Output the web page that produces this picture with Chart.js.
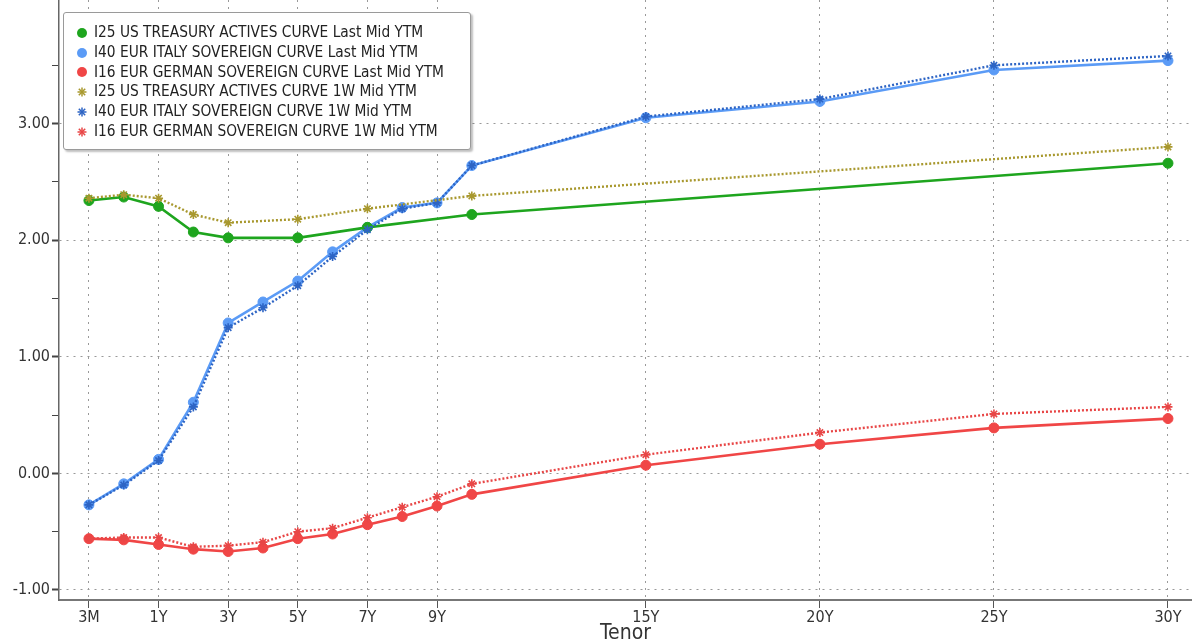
<!doctype html>
<html lang="en">
<head>
<meta charset="utf-8">
<script src="https://cdn.jsdelivr.net/npm/chart.js"></script>
<style>
  body { margin: 0; background: #fff; }
  #wrap { position: relative; width: 1192px; height: 643px; }
  #legend {
    position: absolute; left: 63px; top: 12px; width: 408px; height: 138px;
    background: #fff; border: 1px solid #9a9a9a; border-radius: 3px;
    box-shadow: 2px 2px 2px rgba(0,0,0,0.25);
    font-family: 'DejaVu Sans Condensed', 'DejaVu Sans', sans-serif; font-size: 15.3px; color: #222;
    box-sizing: border-box; padding-top: 10px;
  }
  .row { height: 19.8px; line-height: 19.8px; white-space: nowrap; display: flex; align-items: center; }
  .row svg { margin-left: 12px; margin-right: 6px; flex: none; }
</style>
</head>
<body>
<div id="wrap">
  <canvas id="myGraph" width="1192" height="643"></canvas>
  <div id="legend"></div>
</div>
<script>
// tenors and their position on the x axis (short end spaced by point, long end by year)
const tenors   = ['3M','6M','1Y','2Y','3Y','4Y','5Y','6Y','7Y','8Y','9Y','10Y','15Y','20Y','25Y','30Y'];
const tenorPos = [-1, 0, 1, 2, 3, 4, 5, 6, 7, 8, 9, 10, 15, 20, 25, 30];

const xTickPos  = [-1, 1, 3, 5, 7, 9, 15, 20, 25, 30];
const xTickText = ['3M','1Y','3Y','5Y','7Y','9Y','15Y','20Y','25Y','30Y'];
const yTicks = [-1, -0.5, 0, 0.5, 1, 1.5, 2, 2.5, 3, 3.5];

// yields, null where the curve has no point
const usLast = [2.34, 2.37, 2.29, 2.07, 2.02, null, 2.02, null, 2.11, null, null, 2.22, null, null, null, 2.66];
const itLast = [-0.27, -0.09, 0.12, 0.61, 1.29, 1.47, 1.65, 1.90, 2.11, 2.28, 2.32, 2.64, 3.05, 3.19, 3.46, 3.54];
const deLast = [-0.56, -0.57, -0.61, -0.65, -0.67, -0.64, -0.56, -0.52, -0.44, -0.37, -0.28, -0.18, 0.07, 0.25, 0.39, 0.47];
const us1W   = [2.36, 2.39, 2.36, 2.22, 2.15, null, 2.18, null, 2.27, null, null, 2.38, null, null, null, 2.80];
const it1W   = [-0.27, -0.10, 0.11, 0.57, 1.25, 1.42, 1.61, 1.86, 2.09, 2.27, 2.32, 2.64, 3.06, 3.21, 3.50, 3.58];
const de1W   = [-0.56, -0.55, -0.55, -0.63, -0.62, -0.59, -0.50, -0.47, -0.38, -0.29, -0.20, -0.09, 0.16, 0.35, 0.51, 0.57];

const names = [
  'I25 US TREASURY ACTIVES CURVE Last Mid YTM',
  'I40 EUR ITALY SOVEREIGN CURVE Last Mid YTM',
  'I16 EUR GERMAN SOVEREIGN CURVE Last Mid YTM',
  'I25 US TREASURY ACTIVES CURVE 1W Mid YTM',
  'I40 EUR ITALY SOVEREIGN CURVE 1W Mid YTM',
  'I16 EUR GERMAN SOVEREIGN CURVE 1W Mid YTM'
];
const colors = ['#1ea51e', '#5b9bf6', '#f04646', '#a8982e', '#2d64c4', '#e84646'];
const series = [usLast, itLast, deLast, us1W, it1W, de1W];

function pts(vals) {
  const out = [];
  for (let i = 0; i < vals.length; i++) {
    if (vals[i] !== null) out.push({ x: tenorPos[i], y: vals[i] });
  }
  return out;
}

const datasets = series.map(function (vals, i) {
  const last = i < 3;
  return {
    label: names[i],
    data: pts(vals),
    borderColor: colors[i],
    backgroundColor: colors[i],
    borderWidth: last ? 2.6 : 2.4,
    borderDash: last ? [] : [2, 2],
    pointStyle: last ? 'circle' : 'star',
    pointRadius: last ? 5 : 4.5,
    pointBorderWidth: last ? 1 : 1.6,
    tension: 0,
    order: last ? 1 : 0
  };
});

// html legend
const legend = document.getElementById('legend');
names.forEach(function (n, i) {
  const c = colors[i];
  const mark = i < 3
    ? '<circle cx="6" cy="6" r="5" fill="' + c + '"/>'
    : '<g stroke="' + c + '" stroke-width="1.5"><line x1="6" y1="1.5" x2="6" y2="10.5"/><line x1="1.5" y1="6" x2="10.5" y2="6"/><line x1="2.8" y1="2.8" x2="9.2" y2="9.2"/><line x1="9.2" y1="2.8" x2="2.8" y2="9.2"/></g>';
  legend.innerHTML += '<div class="row"><svg width="12" height="12">' + mark + '</svg>' + n + '</div>';
});

const tickFont = { family: "'DejaVu Sans Condensed', 'DejaVu Sans'", size: 16 };

new Chart(document.getElementById('myGraph'), {
  type: 'line',
  data: { datasets: datasets },
  options: {
    responsive: false,
    animation: false,
    layout: { padding: 0, autoPadding: false },
    plugins: { legend: { display: false }, tooltip: { enabled: false } },
    scales: {
      x: {
        type: 'linear',
        min: -1.86,
        max: 30.69,
        afterBuildTicks: function (s) { s.ticks = xTickPos.map(v => ({ value: v })); },
        afterFit: function (s) { s.height = 43; s.paddingLeft = 0; s.paddingRight = 0; },
        ticks: {
          autoSkip: false, maxRotation: 0, padding: 0, color: '#333', font: tickFont,
          callback: function (v, idx) { return xTickText[idx]; }
        },
        grid: { color: '#999', tickColor: '#555', tickLength: 8, lineWidth: 1 },
        border: { color: '#777', width: 2, dash: [2, 5] },
        title: { display: true, text: 'Tenor', color: '#333', padding: { top: 0, bottom: -3 },
                 font: { family: "'DejaVu Sans Condensed', 'DejaVu Sans'", size: 21 } }
      },
      y: {
        min: -1.086,
        max: 4.06,
        afterBuildTicks: function (s) { s.ticks = yTicks.map(v => ({ value: v })); },
        afterFit: function (s) { s.width = 59; s.paddingTop = 0; s.paddingBottom = 0; },
        ticks: {
          padding: 2, color: '#333', font: tickFont,
          callback: function (v) { return Number.isInteger(v) ? v.toFixed(2) : ''; }
        },
        grid: {
          color: function (c) { return Number.isInteger(c.tick.value) ? '#999' : 'rgba(0,0,0,0)'; },
          tickColor: '#444', tickLength: 7, tickWidth: function (c) { return Number.isInteger(c.tick.value) ? 2 : 1; }
        },
        border: { color: '#666', width: 1.5, dash: [2, 5] }
      }
    }
  }
});
</script>
</body>
</html>
